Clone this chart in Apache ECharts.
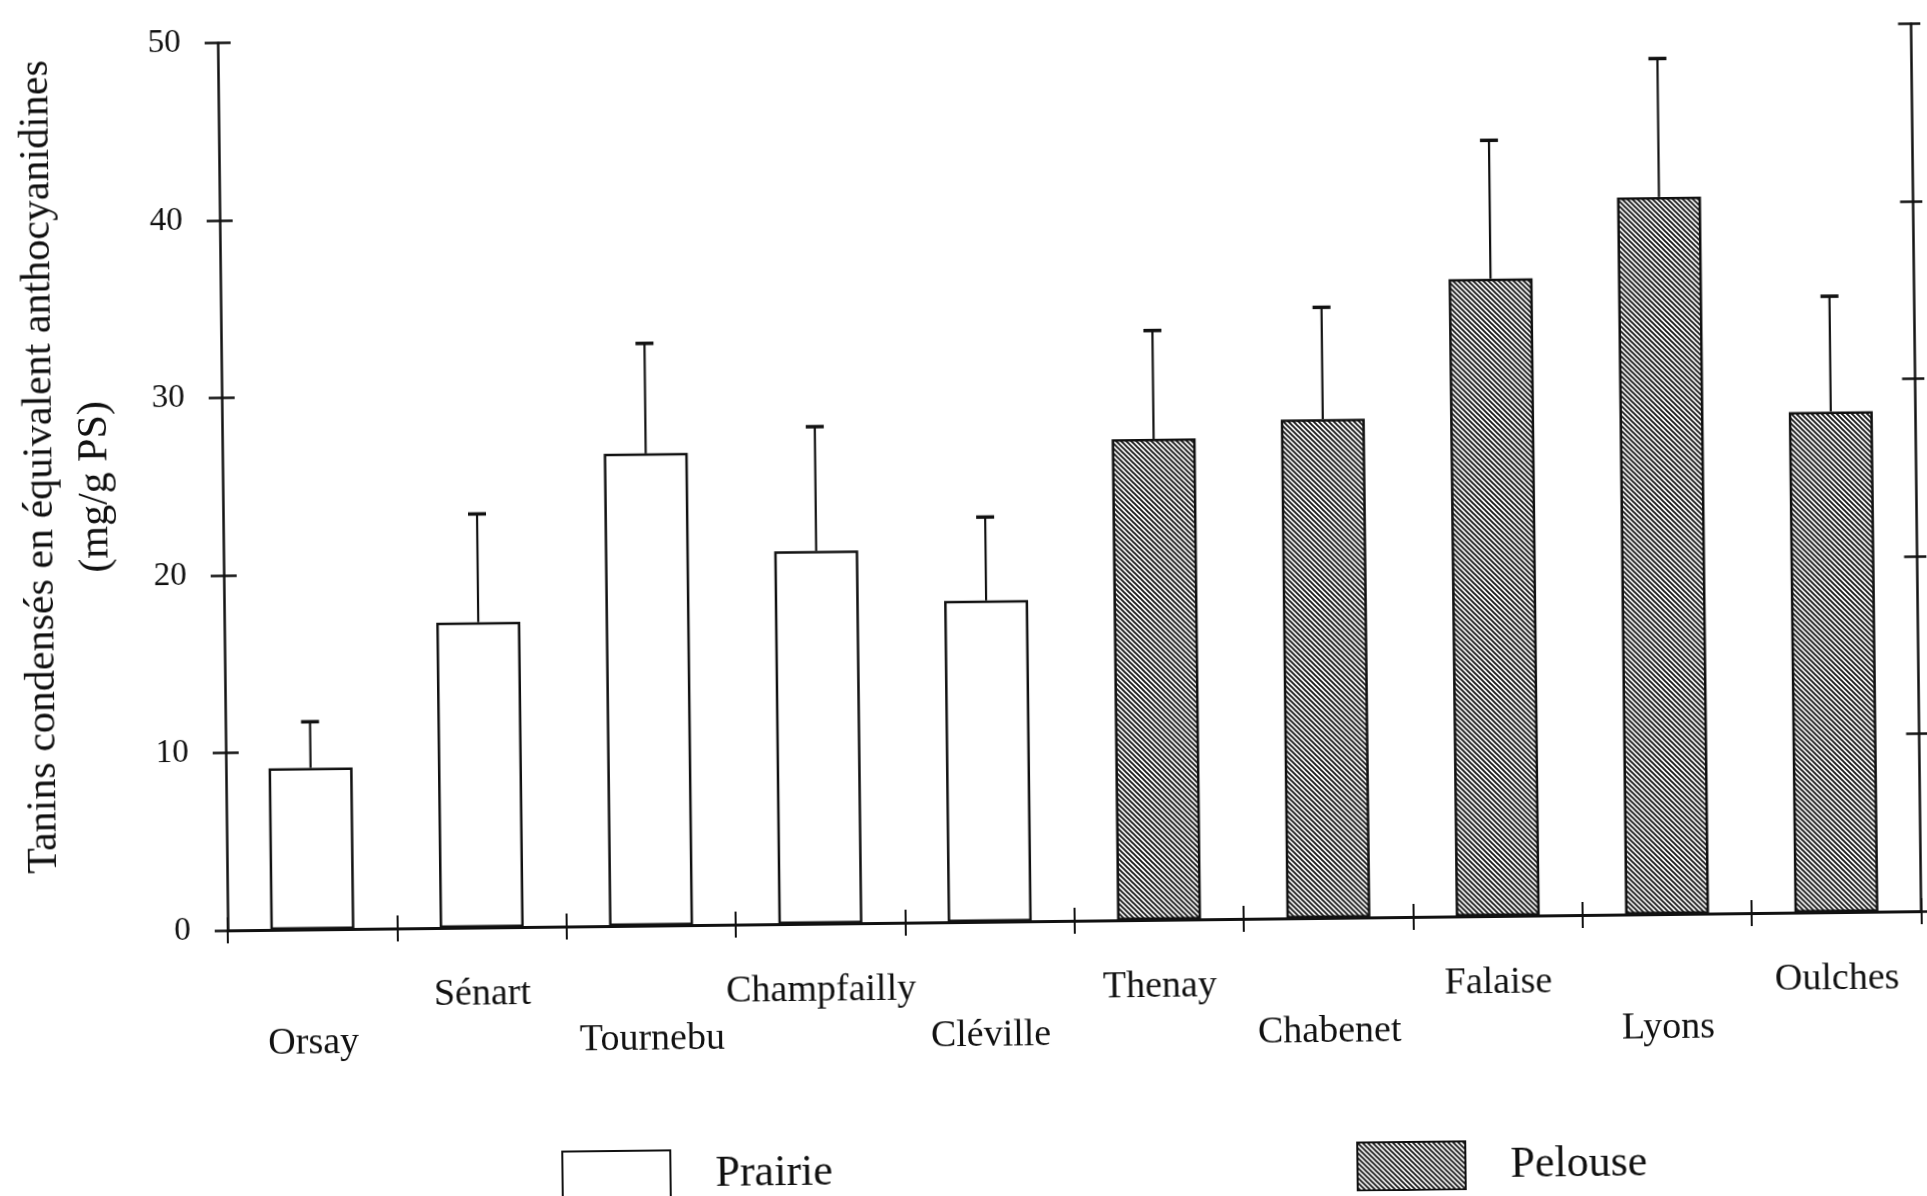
<!DOCTYPE html>
<html><head><meta charset="utf-8">
<script src="https://cdn.jsdelivr.net/npm/echarts@6/dist/echarts.min.js"></script>
<style>
html,body{margin:0;padding:0;background:#fff;overflow:hidden}
#main{width:1927px;height:1196px;transform:rotate(-0.65deg);transform-origin:963.5px 598px;}
</style></head><body><div id="main"></div>
<script>
const prairieSites = ['Orsay', 'Sénart', 'Tournebu', 'Champfailly', 'Cléville'];
const prairieMeans = [9.1, 17.2, 26.6, 21.0, 18.1];
const prairieErr   = [2.6, 6.1, 6.2, 7.0, 4.7];
const pelouseSites = ['Thenay', 'Chabenet', 'Falaise', 'Lyons', 'Oulches'];
const pelouseMeans = [27.1, 28.1, 35.9, 40.4, 28.2];
const pelouseErr   = [6.1, 6.3, 7.8, 7.8, 6.5];
const yTicks = [0, 10, 20, 30, 40, 50];
const yTitle1 = 'Tanins condensés en équivalent anthocyanidines';
const yTitle2 = '(mg/g PS)';

const categories = prairieSites.concat(pelouseSites);
const nP = prairieSites.length;
const allMeans = prairieMeans.concat(pelouseMeans);
const allErr = prairieErr.concat(pelouseErr);
const prairieData = categories.map((c, i) => i < nP ? prairieMeans[i] : '-');
const pelouseData = categories.map((c, i) => i >= nP ? pelouseMeans[i - nP] : '-');
const errData = categories.map((c, i) => [i, allMeans[i], allMeans[i] + allErr[i]]);

function hatch() {
  const s = 5;
  const c = document.createElement('canvas');
  c.width = s; c.height = s;
  const g = c.getContext('2d');
  g.fillStyle = '#ffffff'; g.fillRect(0, 0, s, s);
  g.strokeStyle = '#1a1a1a'; g.lineWidth = 1.9;
  g.beginPath();
  for (let k = -s; k <= s; k += s) { g.moveTo(k - 1, -1); g.lineTo(k + s + 1, s + 1); }
  g.stroke();
  return c;
}
const hatchFill = { image: hatch(), repeat: 'repeat' };

const ink = '#111';
const yMin = yTicks[0], yMax = yTicks[yTicks.length - 1], yStep = yTicks[1] - yTicks[0];
function yAx(pos, inside, labels) {
  return {
    type: 'value', position: pos, min: yMin, max: yMax, interval: yStep,
    axisLine: { show: !inside, lineStyle: { color: ink, width: 2.5 } },
    axisTick: { show: true, inside: inside, length: 13, lineStyle: { color: ink, width: 2.5 } },
    axisLabel: { show: labels, margin: 37, fontSize: 33, fontFamily: 'Liberation Serif', color: ink },
    splitLine: { show: false }
  };
}
function xAx(inside) {
  return {
    type: 'category', position: 'bottom', data: categories, boundaryGap: true,
    axisLine: { show: !inside, lineStyle: { color: ink, width: 3 } },
    axisTick: { show: true, inside: inside, length: 13, lineStyle: { color: ink, width: 2 } },
    axisLabel: {
      show: !inside, interval: 0, margin: 44, fontSize: 38, lineHeight: 46.5,
      fontFamily: 'Liberation Serif', color: ink,
      formatter: (v, i) => (i % 2 === 0 ? '\n' + v : v)
    },
    splitLine: { show: false }
  };
}
const legendBase = {
  orient: 'horizontal', padding: 0, itemWidth: 108, itemHeight: 48, icon: 'rect',
  selectedMode: false, top: 1146,
  textStyle: { fontSize: 44, fontFamily: 'Liberation Serif', color: ink, padding: [0, 0, 0, 40] }
};

const chart = echarts.init(document.getElementById('main'), null, { renderer: 'canvas' });
chart.setOption({
  backgroundColor: '#fff',
  animation: false,
  grid: { left: 224, right: 9.5, top: 34.5, bottom: 274 },
  xAxis: [xAx(false), xAx(true)],
  yAxis: [yAx('left', false, true), yAx('left', true, false), yAx('right', false, false), yAx('right', true, false)],
  legend: [
    Object.assign({}, legendBase, { data: ['Prairie'], left: 555 }),
    Object.assign({}, legendBase, { data: ['Pelouse'], left: 1350 })
  ],
  graphic: [
    { type: 'text', x: 41.5, y: 456.5, rotation: Math.PI / 2,
      style: { text: yTitle1, font: '42px "Liberation Serif"', fill: ink, align: 'center', verticalAlign: 'middle' } },
    { type: 'text', x: 97, y: 477, rotation: Math.PI / 2,
      style: { text: yTitle2, font: '42px "Liberation Serif"', fill: ink, align: 'center', verticalAlign: 'middle' } }
  ],
  series: [
    { name: 'Prairie', type: 'bar', barWidth: 84, barGap: '-100%', data: prairieData,
      itemStyle: { color: '#fff', borderColor: ink, borderWidth: 2.5 } },
    { name: 'Pelouse', type: 'bar', barWidth: 84, barGap: '-100%', data: pelouseData,
      itemStyle: { color: hatchFill, borderColor: ink, borderWidth: 2.5 } },
    { name: 'err', type: 'custom', silent: true, z: 5, data: errData, encode: { x: 0, y: 2 },
      renderItem: function (params, api) {
        const i = api.value(0);
        const b = api.coord([i, api.value(1)]);
        const t = api.coord([i, api.value(2)]);
        return { type: 'group', children: [
          { type: 'line', shape: { x1: b[0], y1: b[1], x2: t[0], y2: t[1] }, style: { stroke: ink, lineWidth: 2.2 } },
          { type: 'line', shape: { x1: t[0] - 9, y1: t[1], x2: t[0] + 9, y2: t[1] }, style: { stroke: ink, lineWidth: 3.5 } }
        ] };
      } }
  ]
});
</script></body></html>
